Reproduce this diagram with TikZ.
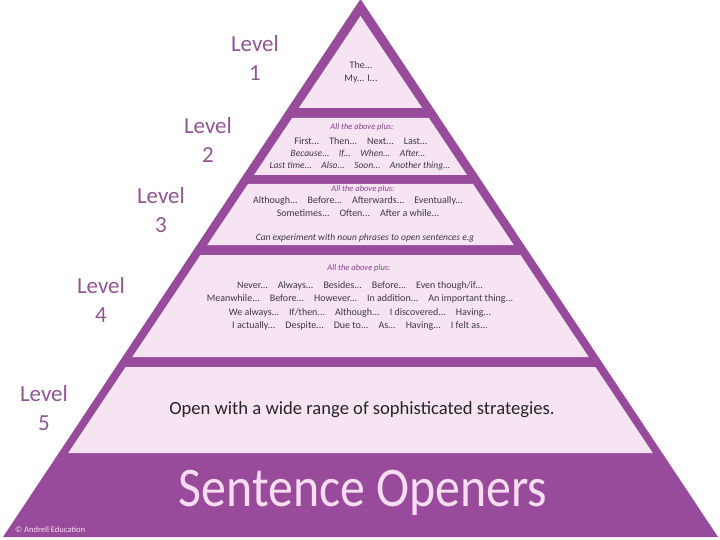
\documentclass[tikz,border=0pt]{standalone}
\usepackage{fontspec}
\setmainfont{Carlito}
\usepackage{xcolor}
\definecolor{PyrPurple}{HTML}{984B9B}
\definecolor{PyrPink}{HTML}{F6E4F3}
\definecolor{LevelInk}{HTML}{8E5792}
\definecolor{PlusInk}{HTML}{8A3F8C}
\definecolor{TextInk}{HTML}{3C3A3C}
\definecolor{TitleInk}{HTML}{F8DDF2}
\usepackage{tikz}
\usetikzlibrary{positioning}

\begin{document}
\begin{tikzpicture}[x=1pt, y=-1pt,
  band/.style={fill=PyrPink},
  lvl/.style={font=\fontsize{23}{29}\selectfont, text=LevelInk, align=center, inner sep=0pt},
  plus/.style={font=\fontsize{8.5}{10}\selectfont\itshape, text=PlusInk, inner sep=0pt},
  opener/.style={font=\fontsize{10}{13.3}\selectfont, text=TextInk, align=center, inner sep=0pt},
  openit/.style={font=\fontsize{9.5}{12}\selectfont\itshape, text=TextInk, align=center, inner sep=0pt},
  big/.style={font=\fontsize{18.6}{22}\selectfont, text=black!85, inner sep=0pt},
  title/.style={font=\fontsize{56}{60}\selectfont, text=TitleInk, inner sep=0pt},
  credit/.style={font=\fontsize{8.5}{10}\selectfont, text=TitleInk, inner sep=0pt}
]
\useasboundingbox (0,0) rectangle (720,540);

%% ---- Pyramid body ----
\fill[PyrPurple] (360.5,-1) -- (718,537) -- (3,537) -- cycle;

%% ---- Bands (top to bottom) ----
\fill[band] (360.5,16) -- (422.2,108) -- (298.8,108) -- cycle;
\fill[band] (292.1,118) -- (428.9,118) -- (467.0,175) -- (254.0,175) -- cycle;
\fill[band] (248.0,184) -- (473.0,184) -- (513.8,245) -- (207.2,245) -- cycle;
\fill[band] (200.5,255) -- (520.5,255) -- (588.7,357) -- (132.3,357) -- cycle;
\fill[band] (125.6,367) -- (595.4,367) -- (652.8,453) -- (68.2,453) -- cycle;

%% ---- Level labels ----
\node[lvl] (lvl1) at (255,58)  {Level\\1};
\node[lvl] (lvl2) at (208,140) {Level\\2};
\node[lvl] (lvl3) at (161,210) {Level\\3};
\node[lvl] (lvl4) at (101,300) {Level\\4};
\node[lvl] (lvl5) at (44,408)  {Level\\5};

%% ---- Level 1 ----
\node[opener] (tier1) at (361,72) {The...\\My... I...};

%% ---- Level 2 ----
\node[plus]   (plus2)  at (362,127) {All the above plus:};
\node[opener] (tier2a) at (361,141) {First...\quad Then...\quad Next...\quad Last...};
\node[openit] (tier2b) at (358,153.5) {Because...\quad If...\quad When...\quad After...};
\node[openit] (tier2c) at (360,166) {Last time...\quad Also...\quad Soon...\quad Another thing...};

%% ---- Level 3 ----
\node[plus]   (plus3)  at (363,189) {All the above plus:};
\node[opener] (tier3)  at (358,206.5) {Although...\quad Before...\quad Afterwards...\quad Eventually...\\
                                      Sometimes...\quad Often...\quad After a while...};
\node[openit] (tier3c) at (365,238) {Can experiment with noun phrases to open sentences e.g};

%% ---- Level 4 ----
\node[plus]   (plus4)  at (359,268) {All the above plus:};
\node[opener] (tier4)  at (360,306) {Never...\quad Always...\quad Besides...\quad Before...\quad Even though/if...\\
  Meanwhile...\quad Before...\quad However...\quad In addition...\quad An important thing...\\
  We always...\quad If/then...\quad Although...\quad I discovered...\quad Having...\\
  I actually...\quad Despite...\quad Due to...\quad As...\quad Having...\quad I felt as...};

%% ---- Level 5 ----
\node[big] (tier5) at (362,410) {Open with a wide range of sophisticated strategies.};

%% ---- Base ----
\node[title]  (name)   at (363,493) {\scalebox{0.89}[1]{Sentence Openers}};
\node[credit, anchor=west] (credit) at (15,530) {\textcopyright{} Andrell Education};

\end{tikzpicture}
\end{document}
